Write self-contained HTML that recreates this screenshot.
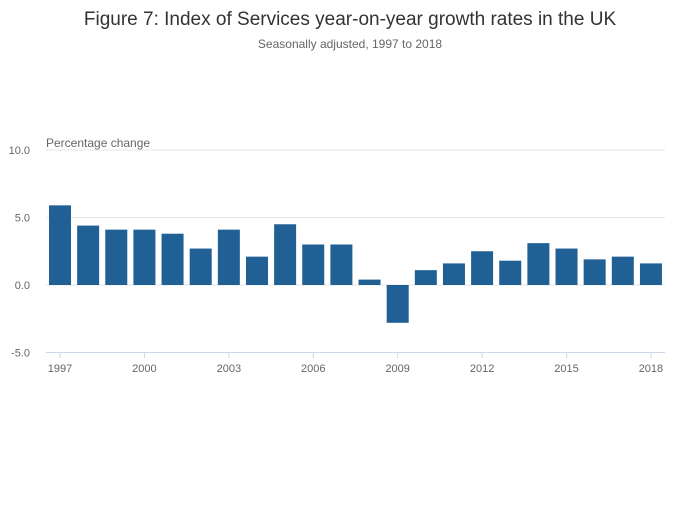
<!DOCTYPE html>
<html><head><meta charset="utf-8"><style>
body{margin:0;background:#fff;font-family:"Liberation Sans",sans-serif;}
svg text{font-family:"Liberation Sans",sans-serif;}
</style></head><body>
<svg id="chart" width="700" height="502" xmlns="http://www.w3.org/2000/svg">
<rect width="700" height="502" fill="#fff"/>
<text x="350" y="25" text-anchor="middle" font-size="19" fill="#333">Figure 7: Index of Services year-on-year growth rates in the UK</text>
<text x="350" y="48" text-anchor="middle" font-size="12" fill="#666">Seasonally adjusted, 1997 to 2018</text>
<text x="46" y="147" font-size="12" fill="#666">Percentage change</text>
<g id="grid"></g><g id="bars"></g><g id="xaxis"></g>
</svg>
<script>
const years = [1997,1998,1999,2000,2001,2002,2003,2004,2005,2006,2007,2008,2009,2010,2011,2012,2013,2014,2015,2016,2017,2018];
const values = [5.9,4.4,4.1,4.1,3.8,2.7,4.1,2.1,4.5,3.0,3.0,0.4,-2.8,1.1,1.6,2.5,1.8,3.1,2.7,1.9,2.1,1.6];
const yTicks = [10,5,0,-5];
const yTickLabels = ["10.0","5.0","0.0","-5.0"];
const xTickYears = [1997,2000,2003,2006,2009,2012,2015,2018];

const NS="http://www.w3.org/2000/svg";
const y = v => 285 - v*13.5;
const x = yr => 60 + (yr-1997)*28.14;
const bw = 22;
function mk(tag, attrs, parent){const e=document.createElementNS(NS,tag);for(const k in attrs)e.setAttribute(k,attrs[k]);parent.appendChild(e);return e;}
const grid=document.getElementById('grid'), bars=document.getElementById('bars'), xa=document.getElementById('xaxis');
yTicks.forEach((t,i)=>{
  if(t!==-5){const l=mk('line',{x1:46,x2:665,y1:y(t),y2:y(t),stroke:'#e6e6e6','stroke-width':1},grid);
  
  }
  const tx=mk('text',{x:30,y:y(t)+4,'text-anchor':'end','font-size':11,fill:'#666'},grid);
  tx.textContent=yTickLabels[i];
  
  
});
values.forEach((v,i)=>{
  const r=mk('rect',{x:x(years[i])-bw/2,y:Math.min(y(v),y(0)),width:bw,height:Math.abs(y(v)-y(0)),fill:'#206095'},bars);
  
  
});
const ax=mk('line',{x1:46,x2:665,y1:352.5,y2:352.5,stroke:'#ccd6eb','stroke-width':1},xa);


xTickYears.forEach(yr=>{
  const tk=mk('line',{x1:x(yr),x2:x(yr),y1:352,y2:358,stroke:'#ccd6eb'},xa);
  
  
  const tx=mk('text',{x:x(yr),y:372,'text-anchor':'middle','font-size':11,fill:'#666'},xa);
  tx.textContent=yr;
  
  
});
</script>
</body></html>
